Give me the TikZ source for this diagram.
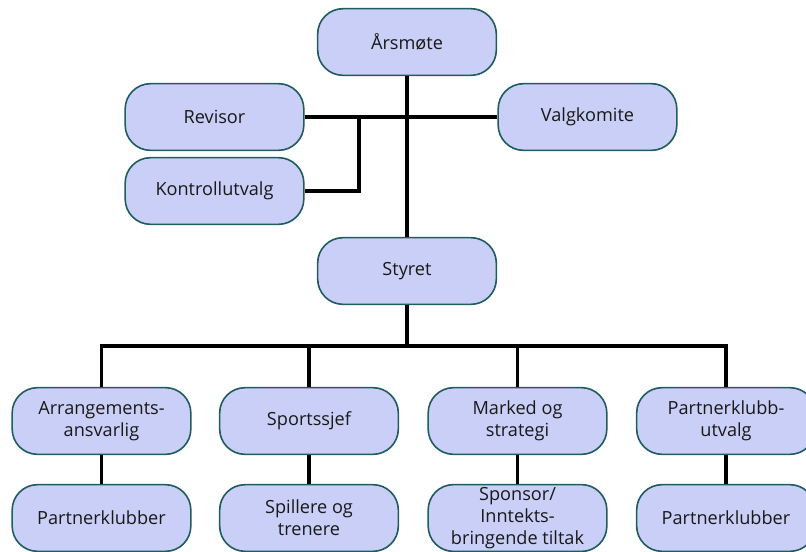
\documentclass[tikz,border=0pt]{standalone}
\usepackage{fontspec}
\setmainfont{Open Sans}
\usepackage{tikz}
\usetikzlibrary{positioning,calc}
\definecolor{boxfill}{HTML}{C9CFF6}
\definecolor{boxline}{HTML}{1F5C5E}

\begin{document}
\begin{tikzpicture}[x=0.75pt, y=-0.75pt]
    \tikzstyle{unit} = [rectangle, draw=boxline, line width=1.2pt, fill=boxfill, rounded corners=19pt, minimum width=134pt, minimum height=50pt, align=center, font=\fontsize{13.6}{16.5}\selectfont, text=black!90, inner sep=2pt]
    \tikzstyle{link} = [draw, line width=2.4pt, black]

    \useasboundingbox (0,0) rectangle (806,551);
    \clip (0,0) rectangle (806,551);

    % Nodes
    \node [unit] (aarsmote) at (407,42) {Årsmøte};
    \node [unit] (revisor) at (214.5,117) {Revisor};
    \node [unit] (valgkomite) at (587.5,117) {Valgkomite};
    \node [unit] (kontroll) at (214.5,191) {Kontrollutvalg};
    \node [unit] (styret) at (407,271) {Styret};

    \node [unit] (arrangement) at (101.5,421) {Arrangements-\\ansvarlig};
    \node [unit] (sport) at (309,421) {Sportssjef};
    \node [unit] (marked) at (517.5,421) {Marked og\\strategi};
    \node [unit] (pkutvalg) at (726,421) {Partnerklubb-\\utvalg};

    \node [unit] (partner1) at (101.5,518) {Partnerklubber};
    \node [unit] (spillere) at (309,518) {Spillere og\\trenere};
    \node [unit] (sponsor) at (517.5,518) {Sponsor/\\Inntekts-\\bringende tiltak};
    \node [unit] (partner2) at (726,518) {Partnerklubber};

    \coordinate (kjunction) at (359,117);
    \coordinate (bus) at (407,346);

    % Edges
    \draw [link] (aarsmote) -- (styret);
    \draw [link] (revisor) -- (valgkomite);
    \draw [link] (kontroll.east) -| (kjunction);
    \draw [link] (styret) -- (bus);
    \draw [link] (arrangement.north) |- (bus) -| (pkutvalg.north);
    \draw [link] (sport.north) -- (sport.north |- bus);
    \draw [link] (marked.north) -- (marked.north |- bus);

    \draw [link] (arrangement) -- (partner1);
    \draw [link] (sport) -- (spillere);
    \draw [link] (marked) -- (sponsor);
    \draw [link] (pkutvalg) -- (partner2);
\end{tikzpicture}
\end{document}
